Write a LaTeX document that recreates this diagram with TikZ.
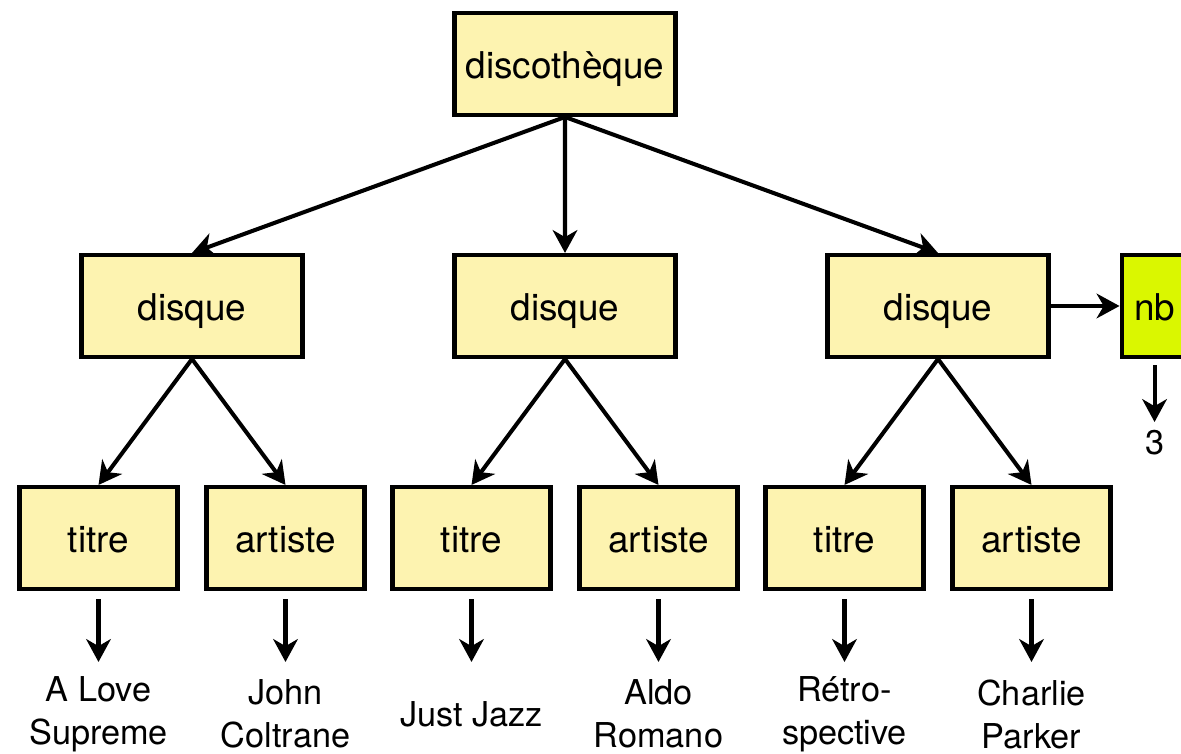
\documentclass[tikz,border=0pt]{standalone}
\usepackage{fontspec}
\setmainfont{TeX Gyre Heros}
\usepackage{xcolor}
\usepackage{tikz}
\usetikzlibrary{trees}
\usetikzlibrary{positioning}
\usetikzlibrary{arrows.meta}
\definecolor{boxyellow}{RGB}{253,243,176}
\definecolor{nbgreen}{RGB}{218,247,0}

\begin{document}
\begin{tikzpicture}[
  level 1/.style={level distance=4.84cm, sibling distance=7.46cm},
  level 2/.style={level distance=4.64cm, sibling distance=3.74cm},
  level 3/.style={level distance=3.52cm, edge from parent/.style={draw,arrowline,shorten <=0.16cm}},
  line width=2.3pt,
  parent anchor=south, child anchor=north,
  font=\fontsize{21}{25}\selectfont
]
\tikzset{
    treenode/.style = {rectangle, draw=black, align=center, fill=boxyellow, minimum width=4.42cm, minimum height=2.04cm, text height=17pt, text depth=0pt},
    leafnode/.style = {treenode, minimum width=3.16cm},
    valnode/.style = {align=center, minimum height=2.0cm, font=\fontsize{19.5}{24.5}\selectfont},
    arrowline/.style = {-{Stealth[length=13pt,width=14pt,inset=4pt]}},
    edge from parent/.style = {draw, arrowline},
}
\useasboundingbox (0,0) rectangle (23.62,15.08);
\node[treenode] (disco) at (11.30,13.80) {discothèque}
child { node[treenode] (disque1) {disque}
  child { node[leafnode] (titre1) {titre}
    child { node[valnode] (val1) {A Love\\Supreme} }
  }
  child { node[leafnode] (artiste1) {artiste}
    child { node[valnode] (val2) {John\\Coltrane} }
  }
}
child { node[treenode] (disque2) {disque}
  child { node[leafnode] (titre2) {titre}
    child { node[valnode] (val3) {Just Jazz} }
  }
  child { node[leafnode] (artiste2) {artiste}
    child { node[valnode] (val4) {Aldo\\Romano} }
  }
}
child { node[treenode] (disque3) {disque}
  child { node[leafnode] (titre3) {titre}
    child { node[valnode] (val5) {Rétro-\\spective} }
  }
  child { node[leafnode] (artiste3) {artiste}
    child { node[valnode] (val6) {Charlie\\Parker} }
  }
}
;
\node[treenode, fill=nbgreen, minimum width=1.32cm, right=1.38cm of disque3] (nb) {nb};
\node[below=1.26cm of nb, font=\fontsize{19.5}{24.5}\selectfont] (three) {3};
\draw[arrowline] (disque3) -- (nb);
\draw[arrowline, shorten <=0.12cm] (nb) -- (three);
\end{tikzpicture}
\end{document}
